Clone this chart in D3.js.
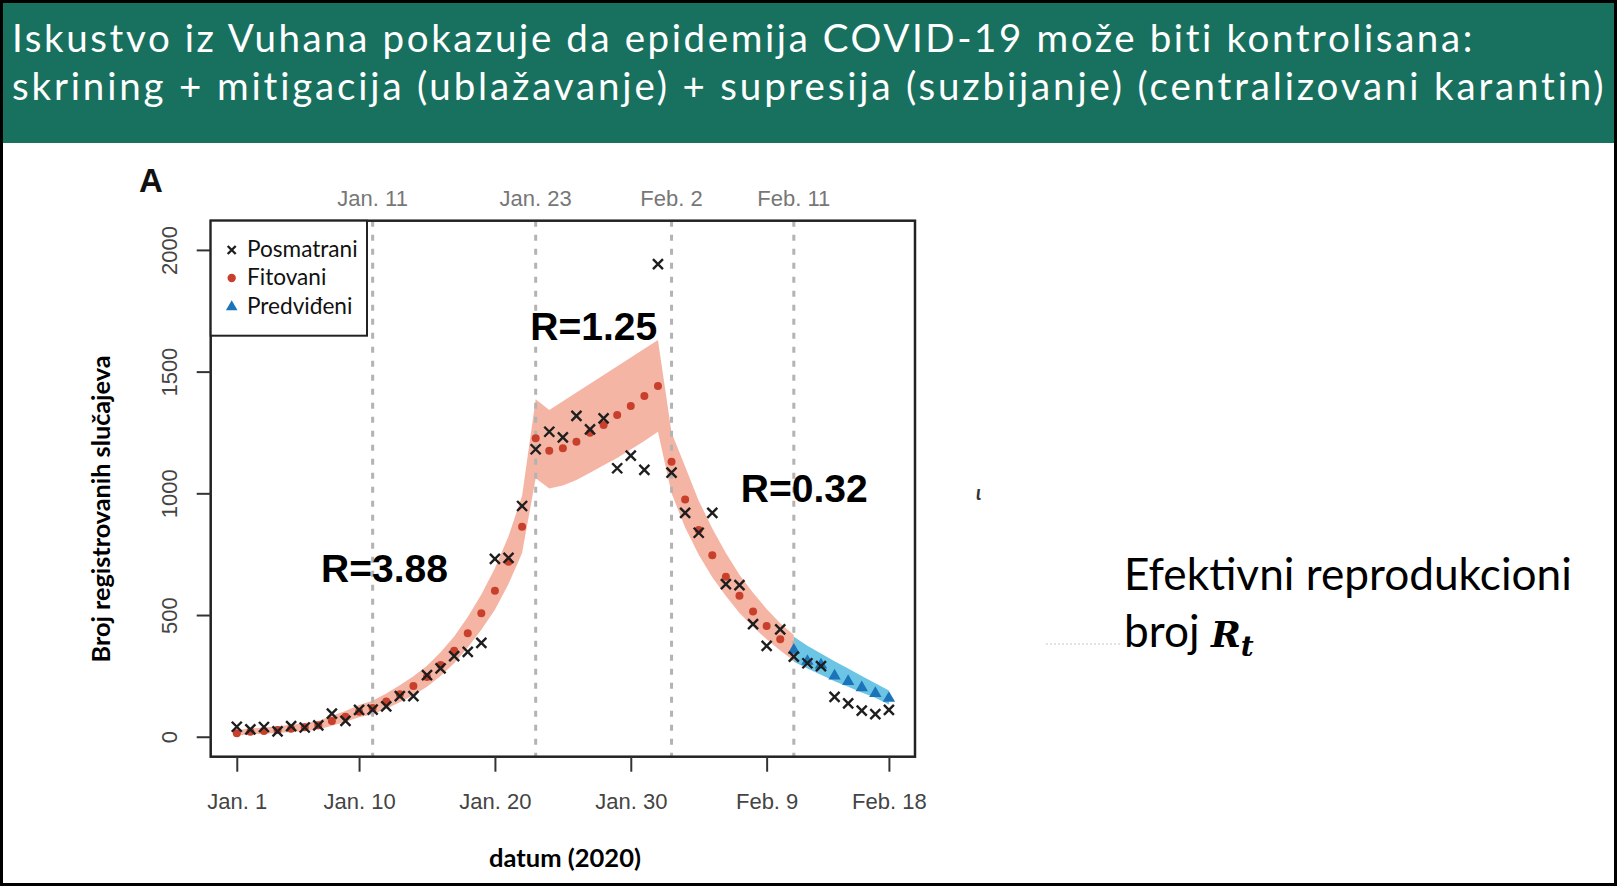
<!DOCTYPE html>
<html><head><meta charset="utf-8">
<script src="https://cdn.jsdelivr.net/npm/d3@7"></script>
<style>body{margin:0;background:#fff;} svg{display:block}</style>
</head><body><svg id="c" width="1617" height="886"></svg>
<script>
// ---------------- DATA ----------------
const titleLines = [
  "Iskustvo iz Vuhana pokazuje da epidemija COVID-19 može biti kontrolisana:",
  "skrining + mitigacija (ublažavanje) + supresija (suzbijanje) (centralizovani karantin)"
];
const xTickDays = [0, 9, 19, 29, 39, 48];
const xTickLabels = ["Jan. 1", "Jan. 10", "Jan. 20", "Jan. 30", "Feb. 9", "Feb. 18"];
const eventDays = [10, 22, 32, 41];
const eventLabels = ["Jan. 11", "Jan. 23", "Feb. 2", "Feb. 11"];
const yTicks = [0, 500, 1000, 1500, 2000];

// observed daily cases, Jan 1 (day 0) .. Feb 18 (day 48)
const observed = [41, 30, 40, 22, 44, 38, 47, 95, 65, 110, 111, 125, 167, 167, 253, 281, 331, 349, 386, 731,
  735, 948, 1181, 1253, 1230, 1318, 1263, 1308, 1103, 1155, 1096, 1942, 1085, 920, 838, 920, 627, 623, 463, 373,
  441, 329, 302, 290, 164, 137, 107, 93, 110];
// fitted, day 0 .. day 40
const fitted = [14, 20, 24, 28, 33, 39, 47, 65, 82, 103, 118, 145, 175, 208, 245, 295, 353, 425, 507, 600,
  719, 863, 1226, 1175, 1185, 1212, 1249, 1281, 1322, 1359, 1400, 1441, 1130, 975, 849, 746, 657, 579, 514, 455, 401];
// predicted, day 41 .. day 48
const predictedDays = [41, 42, 43, 44, 45, 46, 47, 48];
const predicted = [356, 310, 295, 250, 227, 202, 178, 158];

// fitted uncertainty band
const redBandDays = [0, 1, 2, 3, 4, 5, 6, 7, 8, 9, 10, 11, 12, 13, 14, 15, 16, 17, 18, 19, 20, 21,
  22, 23, 24, 25, 26, 27, 28, 29, 30, 31, 32, 33, 34, 35, 36, 37, 38, 39, 40, 41];
const redBandLow = [5, 9, 12, 15, 19, 24, 30, 45, 62, 80, 92, 115, 142, 170, 205, 250, 302, 367, 440, 522, 627, 755,
  1062, 1020, 1032, 1055, 1085, 1115, 1145, 1180, 1215, 1253, 1000, 860, 748, 655, 578, 508, 452, 400, 354, 312];
const redBandHigh = [28, 34, 38, 43, 49, 56, 65, 86, 106, 130, 148, 178, 212, 248, 292, 347, 412, 492, 584, 692, 824, 990,
  1386, 1342, 1378, 1414, 1450, 1486, 1522, 1558, 1594, 1630, 1250, 1110, 970, 855, 755, 665, 592, 525, 466, 418];
// prediction band
const blueBandDays = [41, 42, 43, 44, 45, 46, 47, 48];
const blueBandLow = [308, 280, 255, 228, 205, 182, 160, 132];
const blueBandHigh = [411, 374, 342, 310, 280, 250, 220, 190];

const legendLabels = ["Posmatrani", "Fitovani", "Predviđeni"];
const rLabels = [
  {text: "R=3.88", day: 6.2, value: 636},
  {text: "R=1.25", day: 21.6, value: 1630},
  {text: "R=0.32", day: 37.1, value: 964}
];

// ---------------- DRAW ----------------
const svg = d3.select("#c");
const W = 1617, H = 886;
svg.append("rect").attr("width", W).attr("height", H).attr("fill", "#fff");
svg.append("rect").attr("width", W).attr("height", 143).attr("fill", "#18705f");
svg.append("rect").attr("x", 1.5).attr("y", 1.5).attr("width", W - 3).attr("height", H - 3)
  .attr("fill", "none").attr("stroke", "#000").attr("stroke-width", 3);

function fitW(sel, w) {
  const cur = sel.node().getComputedTextLength();
  const fs = parseFloat(sel.attr("font-size"));
  sel.attr("font-size", fs * w / cur);
  return sel;
}
function spreadW(sel, w) {
  const cur = sel.node().getComputedTextLength();
  const n = sel.text().length;
  sel.attr("letter-spacing", (w - cur) / (n - 1));
  return sel;
}

// title
const t1 = svg.append("text").attr("x", 12).attr("y", 52).attr("fill", "#fff")
  .attr("font-family", "Lato, 'Open Sans', sans-serif").attr("font-size", 38.5).text(titleLines[0]);
spreadW(t1, 1461);
const t2 = svg.append("text").attr("x", 12).attr("y", 100).attr("fill", "#fff")
  .attr("font-family", "Lato, 'Open Sans', sans-serif").attr("font-size", 38.5).text(titleLines[1]);
spreadW(t2, 1593);

// scales
const L = 210.7, R = 915, T = 220.7, B = 756.7;
const x = d3.scaleLinear().domain([-1.92, 49.92]).range([L, R]);
const y = d3.scaleLinear().domain([-82, 2120]).range([B, T]);

const g = svg.append("g");

// bands
const area = d3.area().x(d => x(d.day)).y0(d => y(d.lo)).y1(d => y(d.hi));
const redBand = redBandDays.map((d, i) => ({day: d, lo: redBandLow[i], hi: redBandHigh[i]}));
const blueBand = blueBandDays.map((d, i) => ({day: d, lo: blueBandLow[i], hi: blueBandHigh[i]}));
g.append("path").datum(redBand).attr("d", area).attr("fill", "#f5b5a4");
g.append("path").datum(blueBand).attr("d", area).attr("fill", "#6cc5e4");

// event dashed lines
g.selectAll(".ev").data(eventDays).enter().append("line")
  .attr("x1", d => x(d)).attr("x2", d => x(d)).attr("y1", T).attr("y2", B)
  .attr("stroke", "#b3b3b3").attr("stroke-width", 3).attr("stroke-dasharray", "6,8");
g.selectAll(".evl").data(eventDays).enter().append("text")
  .attr("x", d => x(d)).attr("y", 206).attr("text-anchor", "middle")
  .attr("font-family", "'Liberation Sans', Arial, sans-serif").attr("font-size", 22).attr("fill", "#777")
  .text((d, i) => eventLabels[i]);

// fitted dots
g.selectAll(".fit").data(fitted).enter().append("circle")
  .attr("cx", (d, i) => x(i)).attr("cy", d => y(d)).attr("r", 4).attr("fill", "#c8402c");
// predicted triangles
const tri = d3.symbol().type(d3.symbolTriangle).size(66);
g.selectAll(".pred").data(predicted).enter().append("path")
  .attr("d", tri).attr("transform", (d, i) => `translate(${x(predictedDays[i])},${y(d)})`)
  .attr("fill", "#1b74ba");
// observed crosses
const cross = "M-5,-5L5,5M-5,5L5,-5";
g.selectAll(".obs").data(observed).enter().append("path")
  .attr("d", cross).attr("transform", (d, i) => `translate(${x(i)},${y(d)})`)
  .attr("stroke", "#1e1e1e").attr("stroke-width", 2.4).attr("fill", "none");

// box
g.append("rect").attr("x", L).attr("y", T).attr("width", R - L).attr("height", B - T)
  .attr("fill", "none").attr("stroke", "#222").attr("stroke-width", 2.5);

// y axis
const ya = svg.append("g").attr("transform", `translate(${L},0)`)
  .call(d3.axisLeft(y).tickValues(yTicks).tickSize(14).tickFormat(d3.format("d")));
ya.select(".domain").remove();
ya.selectAll(".tick line").attr("stroke", "#333").attr("stroke-width", 2);
ya.selectAll(".tick text").attr("transform", "rotate(-90)").attr("x", 0).attr("y", -34).attr("dy", 0)
  .attr("text-anchor", "middle").attr("font-family", "'Liberation Sans', Arial, sans-serif")
  .attr("font-size", 22).attr("fill", "#444");

// x axis
const xa = svg.append("g").attr("transform", `translate(0,${B})`)
  .call(d3.axisBottom(x).tickValues(xTickDays).tickSize(15).tickPadding(22)
    .tickFormat((d, i) => xTickLabels[i]));
xa.select(".domain").remove();
xa.selectAll(".tick line").attr("stroke", "#333").attr("stroke-width", 2);
xa.selectAll(".tick text").attr("font-family", "'Liberation Sans', Arial, sans-serif")
  .attr("font-size", 22).attr("fill", "#444");

// legend
svg.append("rect").attr("x", L).attr("y", T).attr("width", 156.3).attr("height", 115)
  .attr("fill", "#fff").attr("stroke", "#222").attr("stroke-width", 2);
const legY = [250, 278, 307];
svg.append("path").attr("d", "M-4,-4L4,4M-4,4L4,-4").attr("transform", `translate(231.7,${legY[0]})`)
  .attr("stroke", "#1e1e1e").attr("stroke-width", 2.4);
svg.append("circle").attr("cx", 231.7).attr("cy", legY[1]).attr("r", 4.2).attr("fill", "#c8402c");
svg.append("path").attr("d", d3.symbol().type(d3.symbolTriangle).size(58))
  .attr("transform", `translate(231.7,${legY[2]})`).attr("fill", "#1b74ba");
const legTexts = legendLabels.map((lab, i) => svg.append("text").attr("x", 247).attr("y", legY[i] + 7)
  .attr("font-family", "Lato, 'Open Sans', sans-serif").attr("font-size", 20).attr("fill", "#111").text(lab));
fitW(legTexts[0], 110.7);
legTexts.forEach(t => t.attr("font-size", legTexts[0].attr("font-size")));

// R labels
rLabels.forEach(r => {
  const t = svg.append("text").attr("x", x(r.day)).attr("y", y(r.value))
    .attr("font-family", "'Liberation Sans', Arial, sans-serif").attr("font-weight", "bold")
    .attr("font-size", 39).attr("fill", "#000").text(r.text);
  fitW(t, 127);
});

// panel letter
svg.append("text").attr("x", 139).attr("y", 192).attr("font-family", "'Liberation Sans', Arial, sans-serif")
  .attr("font-weight", "bold").attr("font-size", 33).attr("fill", "#111").text("A");

// axis titles
const yt = svg.append("text").attr("transform", "translate(110,509) rotate(-90)").attr("text-anchor", "middle")
  .attr("font-family", "Lato, 'Open Sans', sans-serif").attr("font-weight", "bold").attr("font-size", 19)
  .attr("fill", "#000").text("Broj registrovanih slučajeva");
fitW(yt, 307);
const xt = svg.append("text").attr("x", 565).attr("y", 867).attr("text-anchor", "middle")
  .attr("font-family", "Lato, 'Open Sans', sans-serif").attr("font-weight", "bold").attr("font-size", 19)
  .attr("fill", "#000").text("datum (2020)");
fitW(xt, 152);

// right annotation
const e1 = svg.append("text").attr("x", 1124).attr("y", 590).attr("font-family", "Lato, 'Open Sans', sans-serif")
  .attr("font-size", 40).attr("fill", "#000").text("Efektivni reprodukcioni");
fitW(e1, 448);
const efs = e1.attr("font-size");
const e2 = svg.append("text").attr("x", 1124).attr("y", 647).attr("font-family", "Lato, 'Open Sans', sans-serif")
  .attr("font-size", efs).attr("fill", "#000");
e2.append("tspan").text("broj ");
e2.append("tspan").attr("font-family", "'DejaVu Serif', 'Liberation Serif', serif").attr("font-style", "italic")
  .attr("font-weight", "bold").attr("font-size", 36).text("R");
e2.append("tspan").attr("font-family", "'DejaVu Serif', 'Liberation Serif', serif").attr("font-style", "italic")
  .attr("font-weight", "bold").attr("font-size", 28).attr("dy", 9).text("t");

// small artifacts
svg.append("text").attr("x", 976).attr("y", 500).attr("font-family", "Lato, sans-serif").attr("font-weight", "bold")
  .attr("font-style", "italic").attr("font-size", 20).attr("fill", "#333").text("ι");
svg.append("line").attr("x1", 1046).attr("x2", 1120).attr("y1", 644).attr("y2", 644)
  .attr("stroke", "#e2e2e2").attr("stroke-width", 2).attr("stroke-dasharray", "2,2");
</script>
</body></html>
